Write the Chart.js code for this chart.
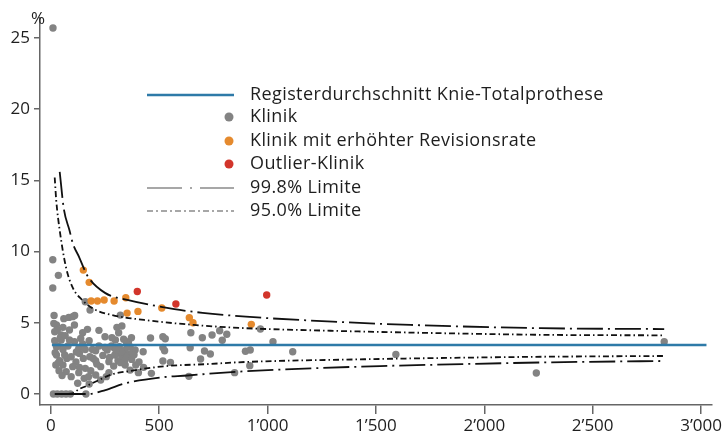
<!DOCTYPE html>
<html>
<head>
<meta charset="utf-8">
<script src="https://cdn.jsdelivr.net/npm/chart.js@4.4.1/dist/chart.umd.min.js"></script>
<style>
  html, body { margin: 0; padding: 0; background: #fff; }
  #wrap { width: 724px; height: 438px; }
</style>
</head>
<body>
<div id="wrap"><canvas id="myChart" width="724" height="438"></canvas></div>
<script>
// cases per clinic (x) and revision rate in % (y)
const clinicN = [10, 9, 35, 9, 159, 181, 321, 15, 60, 83, 101, 110, 26, 56, 18, 48, 86, 109, 169, 177, 222, 305, 328, 313,
  460, 517, 528, 646, 699, 744, 779, 791, 18, 33, 56, 79, 109, 129, 147, 207, 260, 290, 305, 343, 366, 358, 389, 426,
  517, 525, 643, 709, 736, 691, 552, 517, 26, 41, 56, 74, 94, 116, 132, 150, 180, 207, 240, 271, 295, 310, 331, 351,
  373, 392, 407, 428, 404, 464, 637, 848, 129, 159, 184, 124, 154, 174, 177, 207, 230, 256, 268, 162, 12, 30, 50, 70, 90,
  26, 23, 38, 71, 94, 101, 64, 48, 222, 192, 250, 280, 298, 336, 358, 316, 325, 376, 268, 290, 343, 366, 230, 132, 159,
  86, 147, 250, 967, 1025, 898, 920, 1116, 1592, 918, 812, 2240, 2830,
  14, 30, 44, 66, 20, 35, 52, 118, 138, 196, 212, 282, 340, 300, 350, 372, 384, 322];
const clinicRate = [25.7, 9.43, 8.33, 7.44, 6.48, 5.89, 5.54, 5.52, 5.29, 5.38, 5.43, 5.52, 4.84, 4.68, 4.37, 4.14, 4.49, 4.84, 4.54, 3.74, 4.47, 4.68, 4.77, 4.30,
  3.93, 4.02, 3.88, 4.30, 3.95, 4.14, 4.44, 3.77, 3.74, 3.37, 3.13, 3.37, 3.67, 3.20, 3.51, 3.04, 3.09, 3.27, 2.85, 3.09, 3.32, 2.81, 3.09, 2.97,
  3.27, 3.04, 3.25, 3.02, 2.81, 2.46, 2.22, 2.32, 2.74, 2.34, 2.04, 2.50, 2.62, 2.25, 1.87, 2.50, 2.62, 2.34, 2.71, 2.57, 2.74, 2.34, 2.62, 2.67,
  2.43, 2.04, 2.25, 1.87, 1.50, 1.45, 1.24, 1.50, 1.50, 1.80, 1.64, 0.75, 1.10, 1.22, 0.70, 1.33, 0.98, 1.22, 1.50, 0, 0, 0, 0, 0, 0,
  3.32, 2.04, 1.64, 1.57, 1.22, 1.92, 2.74, 3.79, 3.37, 3.13, 3.27, 3.37, 3.79, 3.84, 3.67, 3.32, 2.97, 2.90, 2.27, 1.96, 2.04, 1.68, 1.92, 2.85, 3.13,
  3.79, 4.30, 4.02, 4.56, 3.67, 3.00, 3.09, 2.97, 2.78, 1.99, 4.20, 1.47, 3.67,
  4.95, 4.5, 3.95, 4.1, 2.9, 2.2, 1.3, 2.95, 3.9, 2.5, 2.1, 3.95, 2.35, 3.1, 3.5, 3.95, 2.75, 2.2];

const elevatedN = [150, 177, 186, 215, 246, 292, 346, 352, 402, 512, 639, 656, 925];
const elevatedRate = [8.7, 7.84, 6.53, 6.53, 6.6, 6.53, 6.76, 5.68, 5.8, 6.04, 5.36, 5.0, 4.89];

const outlierN = [399, 577, 996];
const outlierRate = [7.2, 6.32, 6.95];

// registry mean
const meanRate = 3.44;
const meanN = [5, 3025];

// control limits
const upper998N = [41, 60, 86, 101, 131, 169, 250, 358, 570, 700, 900, 1300, 1660, 2260, 2830];
const upper998 = [15.6, 13.0, 11.5, 10.6, 9.6, 8.3, 7.1, 6.6, 5.96, 5.7, 5.43, 5.08, 4.85, 4.62, 4.56];
const lower998N = [41, 100, 170, 252, 343, 510, 630, 750, 900, 1200, 1520, 1900, 2290, 2830];
const lower998 = [0, 0, 0, 0.28, 0.75, 1.17, 1.3, 1.45, 1.6, 1.8, 1.96, 2.1, 2.22, 2.32];
const upper95N = [18, 25, 41, 70, 100, 145, 200, 280, 430, 660, 900, 1265, 1700, 2300, 2830];
const upper95 = [15.2, 13.6, 11.5, 8.9, 7.5, 6.6, 5.95, 5.55, 5.2, 4.85, 4.62, 4.45, 4.3, 4.15, 4.12];
const lower95N = [18, 60, 100, 131, 162, 222, 275, 358, 525, 720, 900, 1415, 1900, 2300, 2830];
const lower95 = [0, 0, 0.05, 0.35, 0.55, 0.98, 1.35, 1.6, 1.95, 2.1, 2.25, 2.43, 2.55, 2.62, 2.67];

const xTickValues = [0, 500, 1000, 1500, 2000, 2500, 3000];
const xTickLabels = ['0', '500', '1\u2019000', '1\u2019500', '2\u2019000', '2\u2019500', '3\u2019000'];
const yTickValues = [0, 5, 10, 15, 20, 25];

const legendLabels = ['Registerdurchschnitt Knie-Totalprothese', 'Klinik', 'Klinik mit erhöhter Revisionsrate',
  'Outlier-Klinik', '99.8% Limite', '95.0% Limite'];

const FONT = '"Open Sans", "Noto Sans", sans-serif';
const GRAY = '#838383', ORANGE = '#e58a2e', RED = '#d2352b', BLUE = '#2e7aa8';

function pts(xs, ys) { return xs.map((x, i) => ({ x: x, y: ys[i] })); }

function limitLine(xs, ys, dash) {
  return {
    data: pts(xs, ys), showLine: true, pointRadius: 0, borderColor: '#111', borderWidth: 1.8,
    borderDash: dash, cubicInterpolationMode: 'monotone', order: 0
  };
}

const legendPlugin = {
  id: 'funnelLegend',
  afterDraw(chart) {
    const c = chart.ctx;
    c.save();
    c.fillStyle = '#1e1e1e';
    c.font = '17px ' + FONT;
    c.textAlign = 'center';
    c.textBaseline = 'alphabetic';
    c.fillText('%', 38, 24);

    const rows = [95, 117, 141, 164, 188, 211];
    c.font = '18px ' + FONT;
    c.letterSpacing = '0.4px';
    c.textAlign = 'left';
    c.textBaseline = 'middle';
    rows.forEach((y, i) => c.fillText(legendLabels[i], 250, y));
    c.letterSpacing = '0px';

    c.lineWidth = 2.5;
    c.strokeStyle = BLUE;
    c.beginPath(); c.moveTo(147, rows[0]); c.lineTo(234, rows[0]); c.stroke();

    [GRAY, ORANGE, RED].forEach((col, i) => {
      c.fillStyle = col;
      c.beginPath(); c.arc(229, rows[i + 1], 4.5, 0, Math.PI * 2); c.fill();
    });

    c.strokeStyle = '#8a8a8a';
    c.lineWidth = 1.5;
    c.setLineDash([35, 8, 2, 8]);
    c.beginPath(); c.moveTo(147, rows[4]); c.lineTo(234, rows[4]); c.stroke();
    c.setLineDash([6, 3, 2, 3]);
    c.beginPath(); c.moveTo(147, rows[5]); c.lineTo(234, rows[5]); c.stroke();
    c.restore();
  }
};

const ctx = document.getElementById('myChart');

const myChart = new Chart(ctx, {
  type: 'scatter',
  data: {
    datasets: [
      { data: [{ x: meanN[0], y: meanRate }, { x: meanN[1], y: meanRate }], showLine: true, pointRadius: 0,
        borderColor: BLUE, borderWidth: 2.5, order: 0 },
      limitLine(upper998N, upper998, [26, 5, 2, 5]),
      limitLine(lower998N, lower998, [26, 5, 2, 5]),
      limitLine(upper95N, upper95, [6, 3, 1.5, 3]),
      limitLine(lower95N, lower95, [6, 3, 1.5, 3]),
      { data: pts(outlierN, outlierRate), pointRadius: 3.7, pointBackgroundColor: RED, pointBorderWidth: 0, order: 1 },
      { data: pts(elevatedN, elevatedRate), pointRadius: 3.7, pointBackgroundColor: ORANGE, pointBorderWidth: 0, order: 2 },
      { data: pts(clinicN, clinicRate), pointRadius: 3.7, pointBackgroundColor: GRAY, pointBorderWidth: 0, order: 3 }
    ]
  },
  options: {
    responsive: false,
    animation: false,
    layout: { padding: { top: 18, right: 1, left: 0, bottom: 0 } },
    plugins: { legend: { display: false }, tooltip: { enabled: false } },
    scales: {
      x: {
        type: 'linear', min: -49.9, max: 3051,
        afterFit(scale) { scale.height = 33; },
        afterBuildTicks(scale) { scale.ticks = xTickValues.map(v => ({ value: v })); },
        border: { display: true, color: '#666', width: 1.5 },
        grid: { drawOnChartArea: false, drawTicks: true, tickLength: 9, color: '#666', lineWidth: 1.5 },
        ticks: {
          color: '#1e1e1e', font: { family: FONT, size: 17 }, padding: 2, maxRotation: 0,
          callback: (v) => xTickLabels[xTickValues.indexOf(v)]
        }
      },
      y: {
        type: 'linear', min: -0.772, max: 26.4,
        afterFit(scale) { scale.width = 40; },
        afterBuildTicks(scale) { scale.ticks = yTickValues.map(v => ({ value: v })); },
        border: { display: true, color: '#666', width: 1.5 },
        grid: { drawOnChartArea: false, drawTicks: true, tickLength: 6, color: '#666', lineWidth: 1.5 },
        ticks: { color: '#1e1e1e', font: { family: FONT, size: 17 }, padding: 4 }
      }
    }
  },
  plugins: [legendPlugin]
});
</script>
</body>
</html>
